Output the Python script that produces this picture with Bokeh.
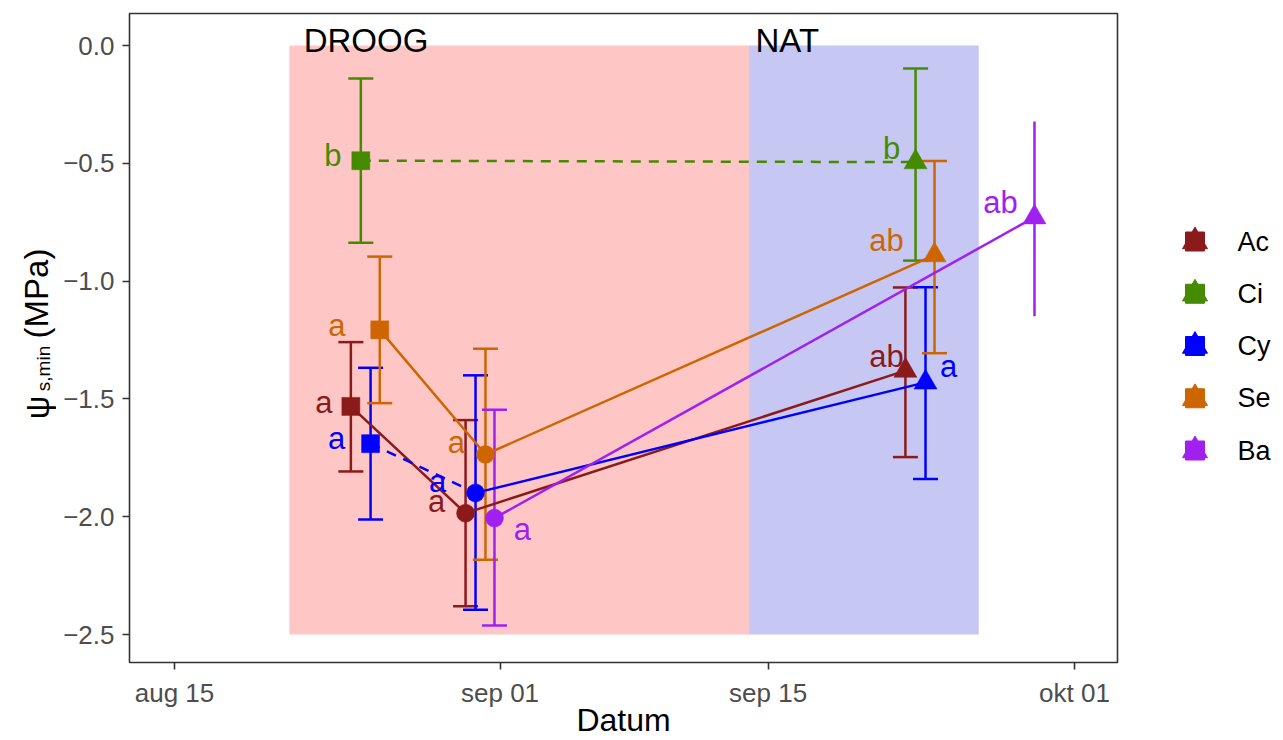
import numpy as np
import pandas as pd
from bokeh.plotting import figure
from bokeh.layouts import row
from bokeh.models import Range1d, FixedTicker, ColumnDataSource
from bokeh.core.properties import value
from bokeh.embed import file_html
from bokeh.resources import INLINE

# ---------------- data ----------------
base_date = "2021-08-15"          # x values are days after this date
tick_dates = ["2021-08-15", "2021-09-01", "2021-09-15", "2021-10-01"]
tick_labels = ["aug 15", "sep 01", "sep 15", "okt 01"]

droog_start, droog_end, nat_end = "2021-08-21", "2021-09-14", "2021-09-26"
band_bottom, band_top = -2.5, 0.0
droog_text_date, nat_text_date = "2021-08-25", "2021-09-16"

species = ["Ac", "Ci", "Cy", "Se", "Ba"]
colors = ["#8B1A1A", "#458B00", "#0000FF", "#CD6600", "#A020F0"]

# phase: 1 = square, 2 = circle, 3 = triangle
ac_day = [9.21, 15.20, 38.17]
ac_phase = [1, 2, 3]
ac_psi = [-1.532, -1.985, -1.38]
ac_lo = [-1.808, -2.38, -1.747]
ac_hi = [-1.259, -1.59, -1.027]
ac_letter = ["a", "a", "ab"]
ac_dash = ["solid", "solid"]

ci_day = [9.73, 38.70]
ci_phase = [1, 3]
ci_psi = [-0.489, -0.495]
ci_lo = [-0.837, -0.913]
ci_hi = [-0.14, -0.098]
ci_letter = ["b", "b"]
ci_dash = ["dashed"]

cy_day = [10.24, 15.72, 39.22]
cy_phase = [1, 2, 3]
cy_psi = [-1.69, -1.899, -1.43]
cy_lo = [-2.012, -2.395, -1.84]
cy_hi = [-1.368, -1.40, -1.026]
cy_letter = ["a", "a", "a"]
cy_dash = ["dashed", "solid"]

se_day = [10.72, 16.24, 39.69]
se_phase = [1, 2, 3]
se_psi = [-1.207, -1.736, -0.89]
se_lo = [-1.518, -2.183, -1.306]
se_hi = [-0.896, -1.287, -0.49]
se_letter = ["a", "a", "ab"]
se_dash = ["solid", "solid"]

ba_day = [16.71, 44.91]
ba_phase = [2, 3]
ba_psi = [-2.006, -0.729]
ba_lo = [-2.462, -1.149]
ba_hi = [-1.546, -0.323]
ba_letter = ["a", "ab"]
ba_dash = ["solid"]
ba_caps = [True, False]

# ---------------- layout / style ----------------
FONT = "Liberation Sans"
W, H = 1283, 740
YT_W = 56                                     # width of the y-title strip
LEG_W = 162                                   # width of the legend strip
FL, FT, FW, FH = 129, 13, 988, 649          # frame left/top/width/height (page px)
FB = H - FT - FH                              # bottom border
PX_DAY = 900 / 47.0                           # px per day
PX_UNIT = (634 - 45) / 2.5                    # px per MPa
X0_PX, Y0_PX = 174, 45                        # px of base date / of 0 MPa
CAP_HALF = 12.5 / PX_DAY                      # half width of error bar caps (days)

def dd(s):
    return (pd.Timestamp(s) - pd.Timestamp(base_date)) / pd.Timedelta(days=1)

def px2x(px):
    return (px - X0_PX) / PX_DAY

def px2y(py):
    return -(py - Y0_PX) / PX_UNIT

marker_of = {1: "square", 2: "circle", 3: "triangle"}
size_of = {1: 18, 2: 18, 3: 23}
# letter label offsets (px) per species & point: (dx, dy to baseline)
label_off = {
    "Ac": [(-27, -4), (-29, -12), (-19, -14)],
    "Ci": [(-28, -5), (-24, -14)],
    "Cy": [(-34, -5), (-38, -11), (23, -16)],
    "Se": [(-43, -4), (-29, -12), (-48, -15)],
    "Ba": [(28, 11), (-34, -15)],
}

series = {
    "Ac": (ac_day, ac_phase, ac_psi, ac_lo, ac_hi, ac_letter, ac_dash, None),
    "Ci": (ci_day, ci_phase, ci_psi, ci_lo, ci_hi, ci_letter, ci_dash, None),
    "Cy": (cy_day, cy_phase, cy_psi, cy_lo, cy_hi, cy_letter, cy_dash, None),
    "Se": (se_day, se_phase, se_psi, se_lo, se_hi, se_letter, se_dash, None),
    "Ba": (ba_day, ba_phase, ba_psi, ba_lo, ba_hi, ba_letter, ba_dash, ba_caps),
}

# ---------------- main plot ----------------
p = figure(frame_width=FW, frame_height=FH, output_backend="svg", toolbar_location=None,
           x_range=Range1d(px2x(FL), px2x(FL + FW)),
           y_range=Range1d(px2y(FT + FH), px2y(FT)),
           min_border_left=FL - YT_W, min_border_top=FT,
           min_border_right=W - YT_W - LEG_W - (FL - YT_W) - FW, min_border_bottom=FB,
           background_fill_color="white", border_fill_color="white")
p.outline_line_color = "#333333"
p.outline_line_width = 1.6
p.grid.visible = False

for ax in (p.xaxis[0], p.yaxis[0]):
    ax.axis_line_color = None
    ax.major_tick_line_color = "#333333"
    ax.major_tick_line_width = 1.6
    ax.major_tick_out = 7
    ax.major_tick_in = 0
    ax.minor_tick_line_color = None
    ax.major_label_text_font = FONT
    ax.major_label_text_font_size = "26px"
    ax.major_label_text_color = "#4D4D4D"
    ax.major_label_standoff = 8

tick_days = [dd(t) for t in tick_dates]
p.xaxis.ticker = FixedTicker(ticks=tick_days)
p.xaxis.major_label_overrides = {t: l for t, l in zip(tick_days, tick_labels)}
p.xaxis.axis_label = "Datum"
p.xaxis.axis_label_text_font = FONT
p.xaxis.axis_label_text_font_size = "32px"
p.xaxis.axis_label_text_font_style = "normal"
p.xaxis.axis_label_text_color = "black"
p.xaxis.axis_label_standoff = -9
p.yaxis.ticker = FixedTicker(ticks=[0.0, -0.5, -1.0, -1.5, -2.0, -2.5])
p.yaxis.major_label_overrides = {0.0: "0.0", -0.5: "\u22120.5", -1.0: "\u22121.0",
                                 -1.5: "\u22121.5", -2.0: "\u22122.0", -2.5: "\u22122.5"}

# shaded periods
p.quad(left=[dd(droog_start)], right=[dd(droog_end)], bottom=[band_bottom], top=[band_top],
       fill_color="#FFC6C6", line_color=None)
p.quad(left=[dd(droog_end)], right=[dd(nat_end)], bottom=[band_bottom], top=[band_top],
       fill_color="#C6C7F2", line_color=None)
p.text(x=[dd(droog_text_date), dd(nat_text_date)], y=[band_top, band_top], text=["DROOG", "NAT"],
       text_font=value(FONT), text_font_size="33px", text_color="black",
       text_align="center", text_baseline="alphabetic", y_offset=-5)

# error bars (vertical bars + caps)
for sp, col in zip(species, colors):
    d, ph, psi, lo, hi, let, dash, caps = series[sp]
    caps = caps if caps is not None else [True] * len(d)
    p.segment(x0=d, x1=d, y0=lo, y1=hi, line_color=col, line_width=2.5)
    cx = [d[i] for i in range(len(d)) if caps[i]]
    clo = [lo[i] for i in range(len(d)) if caps[i]]
    chi = [hi[i] for i in range(len(d)) if caps[i]]
    p.segment(x0=[x - CAP_HALF for x in cx] * 2, x1=[x + CAP_HALF for x in cx] * 2,
              y0=clo + chi, y1=clo + chi, line_color=col, line_width=2.5)

# connecting lines
for sp, col in zip(species, colors):
    d, ph, psi, lo, hi, let, dash, caps = series[sp]
    for i, ds in enumerate(dash):
        p.line([d[i], d[i + 1]], [psi[i], psi[i + 1]], line_color=col, line_width=2.5,
               line_dash="solid" if ds == "solid" else "10 8")

# points
for sp, col in zip(species, colors):
    d, ph, psi, lo, hi, let, dash, caps = series[sp]
    for phase in (1, 2, 3):
        idx = [i for i in range(len(d)) if ph[i] == phase]
        if not idx:
            continue
        src = ColumnDataSource(dict(x=[d[i] for i in idx], y=[psi[i] for i in idx]))
        p.scatter("x", "y", source=src, marker=marker_of[phase], size=size_of[phase],
                  fill_color=col, line_color=col, line_width=0.5)

# letters
for sp, col in zip(species, colors):
    d, ph, psi, lo, hi, let, dash, caps = series[sp]
    offs = label_off[sp]
    p.text(x=d, y=psi, text=let, x_offset=[o[0] for o in offs], y_offset=[o[1] for o in offs],
           text_font=value(FONT), text_font_size="31px", text_color=col,
           text_align="center", text_baseline="alphabetic")

# ---------------- side strips (frame aligned with main frame) ----------------
def strip(width, x0):
    # y coordinate inside the strip = H - page pixel row
    f = figure(width=width, height=H, output_backend="svg", toolbar_location=None,
               x_range=Range1d(x0, x0 + width), y_range=Range1d(FB, H - FT),
               x_axis_location=None, y_axis_location=None,
               min_border_left=0, min_border_right=0, min_border_top=FT, min_border_bottom=FB,
               outline_line_color=None, background_fill_color="white",
               border_fill_color="white")
    f.grid.visible = False
    return f

yt = strip(YT_W, 0)
for txt, cx, cy, fs in [("\u03c8", 37, 407, "33px"), ("s,min", 43, 368, "19px"),
                        ("(MPa)", 36, 293, "33px")]:
    yt.text(x=[cx], y=[H - cy], text=[txt], angle=np.pi / 2, text_font=value(FONT),
            text_font_size=fs, text_color="black", text_align="center", text_baseline="middle")

lg = strip(LEG_W, W - LEG_W)
LEG_X, LEG_Y0, LEG_DY, LEG_TX = 1194.5, 241, 52.25, 1237
ly = [H - (LEG_Y0 + i * LEG_DY) for i in range(len(species))]
lg.scatter(x=[LEG_X] * len(species), y=ly, marker="triangle", size=25,
           fill_color=colors, line_color=colors)
lg.scatter(x=[LEG_X] * len(species), y=ly, marker="square", size=19,
           fill_color=colors, line_color=colors)
lg.text(x=[LEG_TX] * len(species), y=ly, text=species, text_font=value(FONT),
        text_font_size="27px", text_color="black", text_align="left", text_baseline="middle")

layout = row(yt, p, lg, spacing=0)
open("out.html", "w").write(file_html(layout, INLINE))
